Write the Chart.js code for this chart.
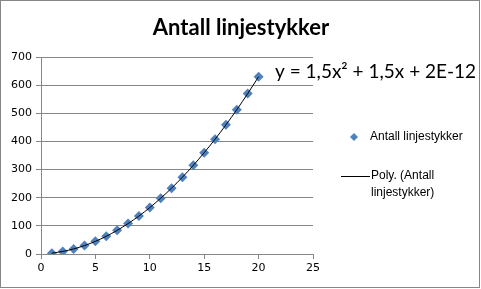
<!DOCTYPE html>
<html>
<head>
<meta charset="utf-8">
<script src="https://cdn.jsdelivr.net/npm/chart.js@4/dist/chart.umd.min.js"></script>
<style>
    html, body { margin: 0; padding: 0; background: #fff; }
    #wrap { width: 481px; height: 289px; position: relative; }
</style>
</head>
<body>
<div id="wrap"><canvas id="chart" width="481" height="289"></canvas></div>
<script>
// Data
const xValues = [1, 2, 3, 4, 5, 6, 7, 8, 9, 10, 11, 12, 13, 14, 15, 16, 17, 18, 19, 20];
const segmentCounts = [3, 9, 18, 30, 45, 63, 84, 108, 135, 165, 198, 234, 273, 315, 360, 408, 459, 513, 570, 630];
const trendValues = [3, 9, 18, 30, 45, 63, 84, 108, 135, 165, 198, 234, 273, 315, 360, 408, 459, 513, 570, 630];
const xTicks = [0, 5, 10, 15, 20, 25];
const yTicks = [0, 100, 200, 300, 400, 500, 600, 700];

const titleText = 'Antall linjestykker';
const seriesLabel = 'Antall linjestykker';
const trendLabel = ['Poly. (Antall', 'linjestykker)'];

const gridGray = '#868686';
const markerBlue = '#4F81BD';

function toPoints(xs, ys) {
    return xs.map((x, i) => ({ x, y: ys[i] }));
}

// Title, equation, legend and outer frame (Excel style)
const decorations = {
    id: 'decorations',
    afterDraw(chart) {
        const ctx = chart.ctx;
        ctx.save();

        // outer frame
        ctx.strokeStyle = gridGray;
        ctx.lineWidth = 1;
        ctx.strokeRect(0.5, 0.5, chart.width - 2, chart.height - 2);

        // title
        ctx.fillStyle = '#000';
        ctx.font = 'bold 22px Lato, "Liberation Sans", sans-serif';
        ctx.textAlign = 'center';
        ctx.textBaseline = 'middle';
        ctx.fillText(titleText, 241, 28);

        // trendline equation
        ctx.textAlign = 'left';
        ctx.font = '19px Lato, "Liberation Sans", sans-serif';
        ctx.fillText('y = 1,5x\u00B2 + 1,5x + 2E-12', 275, 72);

        // legend
        ctx.font = '12px "Liberation Sans", sans-serif';
        ctx.fillStyle = markerBlue;
        ctx.beginPath();
        ctx.moveTo(354, 133);
        ctx.lineTo(358, 137);
        ctx.lineTo(354, 141);
        ctx.lineTo(350, 137);
        ctx.closePath();
        ctx.fill();
        ctx.fillStyle = '#000';
        ctx.fillText(seriesLabel, 370, 137);

        ctx.strokeStyle = '#000';
        ctx.beginPath();
        ctx.moveTo(341, 176.5);
        ctx.lineTo(370, 176.5);
        ctx.stroke();
        ctx.fillText(trendLabel[0], 371, 176);
        ctx.fillText(trendLabel[1], 371, 193);

        ctx.restore();
    }
};

new Chart(document.getElementById('chart'), {
    type: 'scatter',
    data: {
        datasets: [
            {
                label: seriesLabel,
                data: toPoints(xValues, segmentCounts),
                pointStyle: 'rectRot',
                pointRadius: 5,
                pointHoverRadius: 5,
                backgroundColor: markerBlue,
                borderColor: markerBlue,
                borderWidth: 0,
                order: 2,
            },
            {
                label: trendLabel.join(' '),
                data: toPoints(xValues, trendValues),
                showLine: true,
                borderColor: '#000',
                borderWidth: 1,
                pointRadius: 0,
                cubicInterpolationMode: 'monotone',
                fill: false,
                order: 1,
            },
        ],
    },
    options: {
        responsive: false,
        animation: false,
        layout: { padding: { left: 0, top: 57, right: 168, bottom: 0 } },
        plugins: {
            legend: { display: false },
            title: { display: false },
            tooltip: { enabled: false },
        },
        scales: {
            x: {
                type: 'linear',
                min: 0,
                max: 25,
                afterBuildTicks: (axis) => { axis.ticks = xTicks.map(v => ({ value: v })); },
                afterFit: (axis) => { axis.height = 35; },
                grid: { drawOnChartArea: false, drawTicks: true, tickLength: 5, color: gridGray },
                border: { color: gridGray },
                ticks: { color: '#000', padding: 3, maxRotation: 0, font: { family: '"DejaVu Sans"', size: 11 } },
            },
            y: {
                min: 0,
                max: 700,
                afterBuildTicks: (axis) => { axis.ticks = yTicks.map(v => ({ value: v })); },
                afterFit: (axis) => { axis.width = 41; },
                grid: { color: gridGray, tickLength: 5 },
                border: { color: gridGray },
                ticks: { color: '#000', padding: 4, font: { family: '"DejaVu Sans"', size: 11 } },
            },
        },
    },
    plugins: [decorations],
});
</script>
</body>
</html>
